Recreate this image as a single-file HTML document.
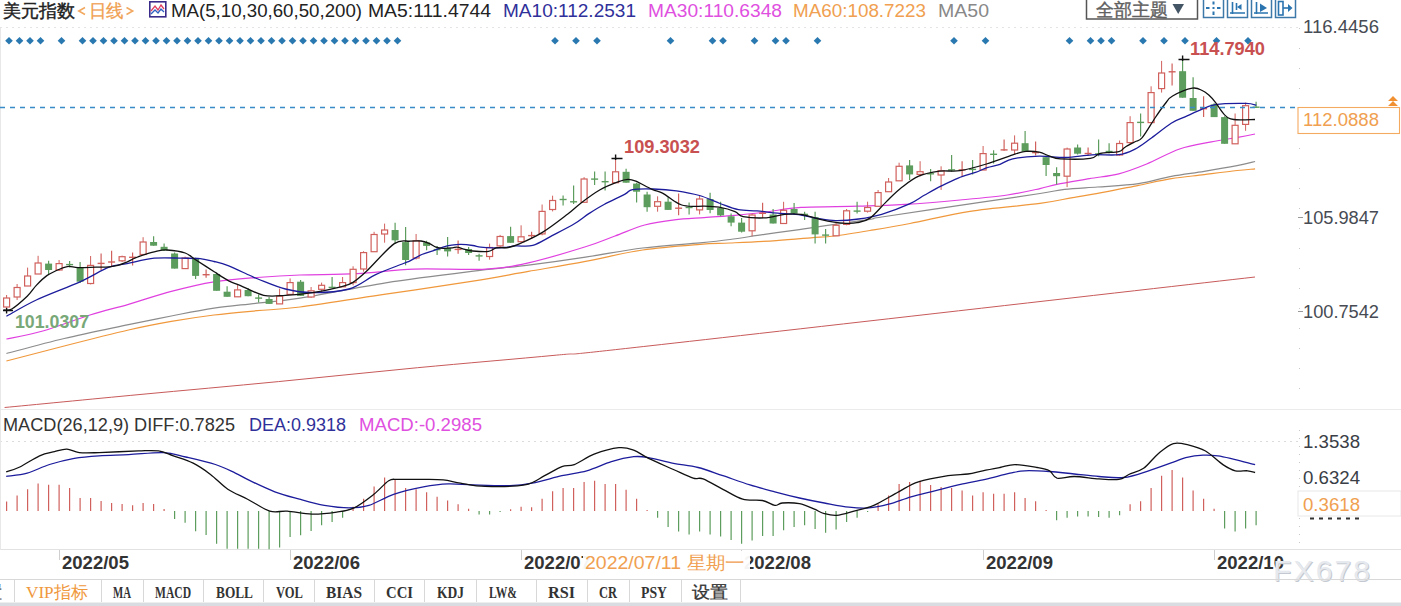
<!DOCTYPE html>
<html><head><meta charset="utf-8">
<style>
html,body{margin:0;padding:0;background:#fff;}
body{width:1401px;height:606px;overflow:hidden;position:relative;font-family:"Liberation Sans",sans-serif;}
svg{position:absolute;left:0;top:0;}

.mono{font-family:"Liberation Mono",monospace;}
</style></head><body>
<svg width="1401" height="606" viewBox="0 0 1401 606">
<rect x="0" y="0" width="1401" height="606" fill="#fff"/>
<line x1="0" y1="27.5" x2="1300" y2="27.5" stroke="#e4e4e4" stroke-dasharray="2,4"/>
<line x1="1299.5" y1="28" x2="1299.5" y2="408" stroke="#c8c8c8" stroke-dasharray="1,19"/>
<line x1="0" y1="409.5" x2="1401" y2="409.5" stroke="#ebebeb"/>
<line x1="0" y1="441.5" x2="1300" y2="441.5" stroke="#dcdcdc" stroke-dasharray="2,4"/>
<line x1="1299.5" y1="430" x2="1299.5" y2="548" stroke="#c8c8c8" stroke-dasharray="1,7"/>
<line x1="0" y1="549.5" x2="1401" y2="549.5" stroke="#e2e2e2"/>
<line x1="0.5" y1="28" x2="0.5" y2="550" stroke="#e8e8e8"/>
<path d="M4.6 407.5 C27.0 405.4 93.4 398.9 139.0 394.6 C184.6 390.3 232.0 386.1 278.4 381.6 C324.8 377.1 371.2 372.1 417.6 367.7 C464.0 363.3 518.1 358.8 556.8 355.1 C595.5 351.5 533.6 358.8 650.0 345.8 C766.4 332.8 1154.2 288.5 1255.0 277.0" fill="none" stroke="#c85a5a" stroke-width="1"/>
<path d="M6.4 361.0 C16.0 358.5 43.9 351.2 64.2 346.0 C84.5 340.8 110.7 334.1 128.5 330.0 C146.3 325.9 157.1 323.9 171.3 321.4 C185.6 318.9 199.7 316.8 214.0 315.0 C228.3 313.2 242.7 312.0 257.0 310.7 C271.3 309.4 278.6 309.8 300.0 307.0 C321.4 304.2 357.1 298.5 385.7 294.2 C414.2 289.9 447.5 285.2 471.3 281.4 C495.1 277.6 509.4 274.7 528.4 271.4 C547.4 268.1 566.5 265.0 585.5 261.4 C604.5 257.8 623.5 252.8 642.6 250.0 C661.7 247.2 685.4 245.5 700.0 244.3 C714.6 243.1 717.3 243.6 730.0 243.0 C742.7 242.4 762.7 241.5 776.2 240.6 C789.7 239.7 801.3 238.6 810.9 237.8 C820.5 237.0 824.1 237.2 834.0 236.0 C843.9 234.8 857.3 232.6 870.0 230.5 C882.7 228.4 893.3 226.7 910.0 223.5 C926.7 220.3 948.3 214.7 970.0 211.3 C991.7 208.0 1022.9 205.7 1040.0 203.4 C1057.1 201.1 1061.8 199.5 1072.8 197.6 C1083.8 195.7 1094.8 193.9 1105.7 191.9 C1116.7 189.9 1127.5 187.5 1138.5 185.3 C1149.5 183.1 1160.5 180.5 1171.4 178.7 C1182.4 176.9 1193.3 176.0 1204.2 174.6 C1215.1 173.2 1228.5 171.4 1237.0 170.5 C1245.5 169.6 1252.1 169.2 1255.1 168.9" fill="none" stroke="#f0983c" stroke-width="1.2"/>
<path d="M6.4 353.5 C16.0 351.0 43.9 343.3 64.2 338.5 C84.5 333.7 110.7 328.4 128.5 324.6 C146.3 320.9 157.1 318.8 171.3 316.0 C185.6 313.2 199.7 310.2 214.0 308.1 C228.3 306.0 242.7 304.9 257.0 303.2 C271.3 301.5 278.6 301.6 300.0 298.2 C321.4 294.8 357.1 287.3 385.7 282.8 C414.2 278.3 447.5 274.3 471.3 271.4 C495.1 268.4 509.4 267.5 528.4 265.1 C547.4 262.7 566.5 260.0 585.5 257.1 C604.5 254.3 623.5 250.4 642.6 248.0 C661.7 245.6 685.4 244.2 700.0 242.8 C714.6 241.4 719.2 240.9 730.0 239.5 C740.8 238.1 753.2 235.9 764.7 234.3 C776.2 232.7 789.7 231.0 799.3 229.7 C808.9 228.3 810.6 227.9 822.4 226.2 C834.2 224.5 860.1 220.8 870.0 219.3 C879.9 217.8 865.0 219.6 881.7 217.0 C898.4 214.4 943.6 207.8 970.0 203.9 C996.4 200.0 1024.2 195.9 1040.0 193.5 C1055.8 191.1 1055.0 190.5 1064.6 189.4 C1074.2 188.3 1085.2 187.9 1097.5 187.0 C1109.8 186.1 1126.2 185.5 1138.5 183.7 C1150.8 181.9 1160.5 178.4 1171.4 176.3 C1182.4 174.2 1193.3 173.1 1204.2 171.3 C1215.1 169.5 1228.5 167.2 1237.0 165.6 C1245.5 164.0 1252.1 162.2 1255.1 161.5" fill="none" stroke="#8c8c8c" stroke-width="1.2"/>
<path d="M6.4 339.0 C12.5 337.7 28.9 335.0 42.8 331.0 C56.7 327.0 75.7 319.4 90.0 315.0 C104.3 310.6 115.0 308.2 128.5 304.3 C142.1 300.4 157.1 295.1 171.3 291.4 C185.6 287.6 199.7 284.1 214.0 281.8 C228.3 279.5 242.7 278.6 257.0 277.5 C271.3 276.4 283.3 275.6 300.0 275.0 C316.7 274.4 338.0 274.7 357.0 273.7 C376.0 272.7 392.8 269.9 414.2 269.1 C435.6 268.3 466.6 270.2 485.6 269.1 C504.6 268.1 511.8 266.5 528.4 262.8 C545.0 259.1 571.1 251.3 585.5 246.8 C599.9 242.3 605.1 239.6 615.0 236.0 C624.9 232.4 634.8 227.7 644.7 225.0 C654.6 222.3 664.5 221.0 674.4 219.8 C684.3 218.6 694.0 218.3 704.1 217.6 C714.2 216.8 724.6 216.2 735.0 215.3 C745.4 214.4 755.2 213.3 766.2 212.0 C777.2 210.7 785.5 208.4 800.9 207.4 C816.3 206.4 841.3 206.7 858.6 206.2 C875.9 205.7 887.9 205.4 904.8 204.4 C921.7 203.4 942.9 201.6 960.0 200.0 C977.1 198.4 994.1 196.9 1007.4 195.0 C1020.7 193.1 1031.8 190.4 1040.0 188.6 C1048.2 186.8 1048.7 186.1 1056.9 184.4 C1065.1 182.8 1079.0 180.5 1089.3 178.7 C1099.6 176.9 1109.2 176.2 1118.8 173.8 C1128.4 171.4 1136.6 168.1 1146.7 164.0 C1156.8 159.9 1168.8 152.7 1179.6 149.0 C1190.4 145.3 1201.7 143.8 1211.4 141.9 C1221.1 140.0 1230.5 138.6 1237.8 137.3 C1245.1 136.0 1252.1 134.6 1255.0 134.0" fill="none" stroke="#e040e0" stroke-width="1.2"/>
<line x1="6.6" y1="295.0" x2="6.6" y2="298.0" stroke="#d0605c"/>
<line x1="6.6" y1="307.0" x2="6.6" y2="310.0" stroke="#d0605c"/>
<rect x="3.6" y="298.0" width="6" height="9.0" fill="#fff" stroke="#d0605c" stroke-width="1.2"/>
<line x1="17.1" y1="284.0" x2="17.1" y2="287.5" stroke="#d0605c"/>
<line x1="17.1" y1="297.0" x2="17.1" y2="300.0" stroke="#d0605c"/>
<rect x="14.1" y="287.5" width="6" height="9.5" fill="#fff" stroke="#d0605c" stroke-width="1.2"/>
<line x1="27.6" y1="267.6" x2="27.6" y2="276.0" stroke="#d0605c"/>
<line x1="27.6" y1="286.0" x2="27.6" y2="286.0" stroke="#d0605c"/>
<rect x="24.6" y="276.0" width="6" height="10.0" fill="#fff" stroke="#d0605c" stroke-width="1.2"/>
<line x1="38.1" y1="255.8" x2="38.1" y2="263.0" stroke="#d0605c"/>
<line x1="38.1" y1="274.0" x2="38.1" y2="274.0" stroke="#d0605c"/>
<rect x="35.1" y="263.0" width="6" height="11.0" fill="#fff" stroke="#d0605c" stroke-width="1.2"/>
<line x1="48.6" y1="260.8" x2="48.6" y2="274.5" stroke="#5c9c5c" stroke-width="1.2"/>
<rect x="45.1" y="263.6" width="7" height="6.4" fill="#5c9c5c"/>
<line x1="59.1" y1="260.0" x2="59.1" y2="263.6" stroke="#d0605c"/>
<line x1="59.1" y1="270.0" x2="59.1" y2="271.0" stroke="#d0605c"/>
<rect x="56.1" y="263.6" width="6" height="6.4" fill="#fff" stroke="#d0605c" stroke-width="1.2"/>
<line x1="69.6" y1="261.0" x2="69.6" y2="267.6" stroke="#5c9c5c" stroke-width="1.2"/>
<line x1="66.1" y1="264.6" x2="73.1" y2="264.6" stroke="#5c9c5c" stroke-width="1.4"/>
<line x1="80.1" y1="262.0" x2="80.1" y2="283.0" stroke="#5c9c5c" stroke-width="1.2"/>
<rect x="76.6" y="267.6" width="7" height="14.1" fill="#5c9c5c"/>
<line x1="90.6" y1="256.0" x2="90.6" y2="265.4" stroke="#d0605c"/>
<line x1="90.6" y1="283.5" x2="90.6" y2="284.4" stroke="#d0605c"/>
<rect x="87.6" y="265.4" width="6" height="18.1" fill="#fff" stroke="#d0605c" stroke-width="1.2"/>
<line x1="101.1" y1="253.6" x2="101.1" y2="270.0" stroke="#d0605c" stroke-width="1.2"/>
<line x1="97.6" y1="263.4" x2="104.6" y2="263.4" stroke="#d0605c" stroke-width="1.4"/>
<line x1="111.6" y1="250.7" x2="111.6" y2="266.0" stroke="#d0605c" stroke-width="1.2"/>
<line x1="108.1" y1="262.0" x2="115.1" y2="262.0" stroke="#d0605c" stroke-width="1.4"/>
<line x1="122.1" y1="255.6" x2="122.1" y2="256.7" stroke="#d0605c"/>
<line x1="122.1" y1="260.8" x2="122.1" y2="262.0" stroke="#d0605c"/>
<rect x="119.1" y="256.7" width="6" height="4.1" fill="#fff" stroke="#d0605c" stroke-width="1.2"/>
<line x1="132.6" y1="252.4" x2="132.6" y2="265.4" stroke="#d0605c" stroke-width="1.2"/>
<line x1="129.1" y1="257.3" x2="136.1" y2="257.3" stroke="#d0605c" stroke-width="1.4"/>
<line x1="143.1" y1="237.2" x2="143.1" y2="242.0" stroke="#d0605c"/>
<line x1="143.1" y1="254.5" x2="143.1" y2="254.5" stroke="#d0605c"/>
<rect x="140.1" y="242.0" width="6" height="12.5" fill="#fff" stroke="#d0605c" stroke-width="1.2"/>
<line x1="153.6" y1="236.3" x2="153.6" y2="245.7" stroke="#5c9c5c" stroke-width="1.2"/>
<rect x="150.1" y="242.0" width="7" height="3.7" fill="#5c9c5c"/>
<line x1="164.1" y1="243.6" x2="164.1" y2="251.0" stroke="#5c9c5c" stroke-width="1.2"/>
<rect x="160.6" y="246.8" width="7" height="3.7" fill="#5c9c5c"/>
<line x1="174.6" y1="252.6" x2="174.6" y2="268.6" stroke="#5c9c5c" stroke-width="1.2"/>
<rect x="171.1" y="253.5" width="7" height="15.1" fill="#5c9c5c"/>
<line x1="185.1" y1="256.6" x2="185.1" y2="258.0" stroke="#d0605c"/>
<line x1="185.1" y1="268.6" x2="185.1" y2="268.6" stroke="#d0605c"/>
<rect x="182.1" y="258.0" width="6" height="10.6" fill="#fff" stroke="#d0605c" stroke-width="1.2"/>
<line x1="195.6" y1="257.7" x2="195.6" y2="279.0" stroke="#5c9c5c" stroke-width="1.2"/>
<rect x="192.1" y="259.0" width="7" height="16.9" fill="#5c9c5c"/>
<line x1="206.1" y1="269.4" x2="206.1" y2="277.7" stroke="#d0605c" stroke-width="1.2"/>
<line x1="202.6" y1="274.7" x2="209.6" y2="274.7" stroke="#d0605c" stroke-width="1.4"/>
<line x1="216.6" y1="272.6" x2="216.6" y2="290.8" stroke="#5c9c5c" stroke-width="1.2"/>
<rect x="213.1" y="274.0" width="7" height="16.8" fill="#5c9c5c"/>
<line x1="227.1" y1="286.3" x2="227.1" y2="296.8" stroke="#5c9c5c" stroke-width="1.2"/>
<rect x="223.6" y="291.7" width="7" height="5.1" fill="#5c9c5c"/>
<line x1="237.6" y1="284.4" x2="237.6" y2="289.9" stroke="#d0605c"/>
<line x1="237.6" y1="296.8" x2="237.6" y2="296.8" stroke="#d0605c"/>
<rect x="234.6" y="289.9" width="6" height="6.9" fill="#fff" stroke="#d0605c" stroke-width="1.2"/>
<line x1="248.1" y1="288.0" x2="248.1" y2="296.2" stroke="#5c9c5c" stroke-width="1.2"/>
<rect x="244.6" y="290.0" width="7" height="6.2" fill="#5c9c5c"/>
<line x1="258.6" y1="294.4" x2="258.6" y2="302.6" stroke="#5c9c5c" stroke-width="1.2"/>
<line x1="255.1" y1="298.1" x2="262.1" y2="298.1" stroke="#5c9c5c" stroke-width="1.4"/>
<line x1="269.1" y1="297.0" x2="269.1" y2="303.9" stroke="#5c9c5c" stroke-width="1.2"/>
<rect x="265.6" y="299.0" width="7" height="4.9" fill="#5c9c5c"/>
<line x1="279.6" y1="288.6" x2="279.6" y2="296.2" stroke="#d0605c"/>
<line x1="279.6" y1="303.9" x2="279.6" y2="303.9" stroke="#d0605c"/>
<rect x="276.6" y="296.2" width="6" height="7.7" fill="#fff" stroke="#d0605c" stroke-width="1.2"/>
<line x1="290.1" y1="278.4" x2="290.1" y2="282.6" stroke="#d0605c"/>
<line x1="290.1" y1="294.4" x2="290.1" y2="294.4" stroke="#d0605c"/>
<rect x="287.1" y="282.6" width="6" height="11.8" fill="#fff" stroke="#d0605c" stroke-width="1.2"/>
<line x1="300.6" y1="280.0" x2="300.6" y2="295.9" stroke="#5c9c5c" stroke-width="1.2"/>
<rect x="297.1" y="281.7" width="7" height="14.2" fill="#5c9c5c"/>
<line x1="311.1" y1="287.0" x2="311.1" y2="290.8" stroke="#d0605c"/>
<line x1="311.1" y1="297.0" x2="311.1" y2="298.0" stroke="#d0605c"/>
<rect x="308.1" y="290.8" width="6" height="6.2" fill="#fff" stroke="#d0605c" stroke-width="1.2"/>
<line x1="321.6" y1="282.6" x2="321.6" y2="285.3" stroke="#d0605c"/>
<line x1="321.6" y1="289.3" x2="321.6" y2="292.6" stroke="#d0605c"/>
<rect x="318.6" y="285.3" width="6" height="4.0" fill="#fff" stroke="#d0605c" stroke-width="1.2"/>
<line x1="332.1" y1="277.0" x2="332.1" y2="287.9" stroke="#5c9c5c" stroke-width="1.2"/>
<line x1="328.6" y1="287.4" x2="335.6" y2="287.4" stroke="#5c9c5c" stroke-width="1.4"/>
<line x1="342.6" y1="277.0" x2="342.6" y2="282.6" stroke="#d0605c"/>
<line x1="342.6" y1="286.8" x2="342.6" y2="286.8" stroke="#d0605c"/>
<rect x="339.6" y="282.6" width="6" height="4.2" fill="#fff" stroke="#d0605c" stroke-width="1.2"/>
<line x1="353.1" y1="266.3" x2="353.1" y2="269.3" stroke="#d0605c"/>
<line x1="353.1" y1="282.6" x2="353.1" y2="285.3" stroke="#d0605c"/>
<rect x="350.1" y="269.3" width="6" height="13.3" fill="#fff" stroke="#d0605c" stroke-width="1.2"/>
<line x1="363.6" y1="251.2" x2="363.6" y2="252.6" stroke="#d0605c"/>
<line x1="363.6" y1="269.0" x2="363.6" y2="271.7" stroke="#d0605c"/>
<rect x="360.6" y="252.6" width="6" height="16.4" fill="#fff" stroke="#d0605c" stroke-width="1.2"/>
<line x1="374.1" y1="231.8" x2="374.1" y2="234.5" stroke="#d0605c"/>
<line x1="374.1" y1="251.7" x2="374.1" y2="251.7" stroke="#d0605c"/>
<rect x="371.1" y="234.5" width="6" height="17.2" fill="#fff" stroke="#d0605c" stroke-width="1.2"/>
<line x1="384.6" y1="223.6" x2="384.6" y2="230.0" stroke="#d0605c"/>
<line x1="384.6" y1="234.0" x2="384.6" y2="242.7" stroke="#d0605c"/>
<rect x="381.6" y="230.0" width="6" height="4.0" fill="#fff" stroke="#d0605c" stroke-width="1.2"/>
<line x1="395.1" y1="222.7" x2="395.1" y2="243.6" stroke="#5c9c5c" stroke-width="1.2"/>
<rect x="391.6" y="230.0" width="7" height="10.3" fill="#5c9c5c"/>
<line x1="405.6" y1="226.9" x2="405.6" y2="265.3" stroke="#5c9c5c" stroke-width="1.2"/>
<rect x="402.1" y="242.1" width="7" height="17.9" fill="#5c9c5c"/>
<line x1="416.1" y1="234.0" x2="416.1" y2="240.8" stroke="#d0605c"/>
<line x1="416.1" y1="258.0" x2="416.1" y2="259.5" stroke="#d0605c"/>
<rect x="413.1" y="240.8" width="6" height="17.2" fill="#fff" stroke="#d0605c" stroke-width="1.2"/>
<line x1="426.6" y1="240.8" x2="426.6" y2="250.2" stroke="#5c9c5c" stroke-width="1.2"/>
<rect x="423.1" y="242.4" width="7" height="3.5" fill="#5c9c5c"/>
<line x1="437.1" y1="245.9" x2="437.1" y2="255.0" stroke="#5c9c5c" stroke-width="1.2"/>
<line x1="433.6" y1="249.6" x2="440.6" y2="249.6" stroke="#5c9c5c" stroke-width="1.4"/>
<line x1="447.6" y1="236.9" x2="447.6" y2="256.5" stroke="#5c9c5c" stroke-width="1.2"/>
<rect x="444.1" y="247.9" width="7" height="3.5" fill="#5c9c5c"/>
<line x1="458.1" y1="240.4" x2="458.1" y2="253.8" stroke="#d0605c" stroke-width="1.2"/>
<line x1="454.6" y1="249.4" x2="461.6" y2="249.4" stroke="#d0605c" stroke-width="1.4"/>
<line x1="468.6" y1="247.1" x2="468.6" y2="255.0" stroke="#5c9c5c" stroke-width="1.2"/>
<rect x="465.1" y="249.0" width="7" height="4.0" fill="#5c9c5c"/>
<line x1="479.1" y1="253.8" x2="479.1" y2="260.8" stroke="#5c9c5c" stroke-width="1.2"/>
<line x1="475.6" y1="255.9" x2="482.6" y2="255.9" stroke="#5c9c5c" stroke-width="1.4"/>
<line x1="489.6" y1="243.6" x2="489.6" y2="247.5" stroke="#d0605c"/>
<line x1="489.6" y1="256.5" x2="489.6" y2="259.7" stroke="#d0605c"/>
<rect x="486.6" y="247.5" width="6" height="9.0" fill="#fff" stroke="#d0605c" stroke-width="1.2"/>
<line x1="500.1" y1="234.9" x2="500.1" y2="236.5" stroke="#d0605c"/>
<line x1="500.1" y1="245.9" x2="500.1" y2="247.1" stroke="#d0605c"/>
<rect x="497.1" y="236.5" width="6" height="9.4" fill="#fff" stroke="#d0605c" stroke-width="1.2"/>
<line x1="510.6" y1="226.7" x2="510.6" y2="242.8" stroke="#5c9c5c" stroke-width="1.2"/>
<rect x="507.1" y="236.1" width="7" height="6.7" fill="#5c9c5c"/>
<line x1="521.1" y1="225.3" x2="521.1" y2="236.8" stroke="#d0605c"/>
<line x1="521.1" y1="241.7" x2="521.1" y2="243.5" stroke="#d0605c"/>
<rect x="518.1" y="236.8" width="6" height="4.9" fill="#fff" stroke="#d0605c" stroke-width="1.2"/>
<line x1="531.6" y1="231.7" x2="531.6" y2="239.0" stroke="#d0605c" stroke-width="1.2"/>
<line x1="528.1" y1="235.6" x2="535.1" y2="235.6" stroke="#d0605c" stroke-width="1.4"/>
<line x1="542.1" y1="204.5" x2="542.1" y2="211.4" stroke="#d0605c"/>
<line x1="542.1" y1="233.9" x2="542.1" y2="235.3" stroke="#d0605c"/>
<rect x="539.1" y="211.4" width="6" height="22.5" fill="#fff" stroke="#d0605c" stroke-width="1.2"/>
<line x1="552.6" y1="195.7" x2="552.6" y2="200.5" stroke="#d0605c"/>
<line x1="552.6" y1="209.5" x2="552.6" y2="211.4" stroke="#d0605c"/>
<rect x="549.6" y="200.5" width="6" height="9.0" fill="#fff" stroke="#d0605c" stroke-width="1.2"/>
<line x1="563.1" y1="195.4" x2="563.1" y2="205.4" stroke="#5c9c5c" stroke-width="1.2"/>
<line x1="559.6" y1="199.5" x2="566.6" y2="199.5" stroke="#5c9c5c" stroke-width="1.4"/>
<line x1="573.6" y1="185.4" x2="573.6" y2="204.0" stroke="#5c9c5c" stroke-width="1.2"/>
<line x1="570.1" y1="201.8" x2="577.1" y2="201.8" stroke="#5c9c5c" stroke-width="1.4"/>
<line x1="584.1" y1="177.2" x2="584.1" y2="179.0" stroke="#d0605c"/>
<line x1="584.1" y1="202.3" x2="584.1" y2="202.3" stroke="#d0605c"/>
<rect x="581.1" y="179.0" width="6" height="23.3" fill="#fff" stroke="#d0605c" stroke-width="1.2"/>
<line x1="594.6" y1="171.4" x2="594.6" y2="184.9" stroke="#5c9c5c" stroke-width="1.2"/>
<line x1="591.1" y1="179.1" x2="598.1" y2="179.1" stroke="#5c9c5c" stroke-width="1.4"/>
<line x1="605.1" y1="171.6" x2="605.1" y2="190.5" stroke="#5c9c5c" stroke-width="1.2"/>
<line x1="601.6" y1="181.7" x2="608.6" y2="181.7" stroke="#5c9c5c" stroke-width="1.4"/>
<line x1="615.6" y1="156.3" x2="615.6" y2="171.8" stroke="#d0605c"/>
<line x1="615.6" y1="182.7" x2="615.6" y2="182.7" stroke="#d0605c"/>
<rect x="612.6" y="171.8" width="6" height="10.9" fill="#fff" stroke="#d0605c" stroke-width="1.2"/>
<line x1="626.1" y1="168.7" x2="626.1" y2="182.7" stroke="#5c9c5c" stroke-width="1.2"/>
<rect x="622.6" y="171.8" width="7" height="10.9" fill="#5c9c5c"/>
<line x1="636.6" y1="182.7" x2="636.6" y2="202.6" stroke="#5c9c5c" stroke-width="1.2"/>
<rect x="633.1" y="183.6" width="7" height="8.1" fill="#5c9c5c"/>
<line x1="647.1" y1="191.7" x2="647.1" y2="211.7" stroke="#5c9c5c" stroke-width="1.2"/>
<rect x="643.6" y="194.5" width="7" height="12.7" fill="#5c9c5c"/>
<line x1="657.6" y1="196.3" x2="657.6" y2="201.7" stroke="#d0605c"/>
<line x1="657.6" y1="206.3" x2="657.6" y2="211.7" stroke="#d0605c"/>
<rect x="654.6" y="201.7" width="6" height="4.6" fill="#fff" stroke="#d0605c" stroke-width="1.2"/>
<line x1="668.1" y1="197.2" x2="668.1" y2="209.9" stroke="#5c9c5c" stroke-width="1.2"/>
<rect x="664.6" y="201.7" width="7" height="8.2" fill="#5c9c5c"/>
<line x1="678.6" y1="193.5" x2="678.6" y2="215.3" stroke="#d0605c" stroke-width="1.2"/>
<line x1="675.1" y1="208.2" x2="682.1" y2="208.2" stroke="#d0605c" stroke-width="1.4"/>
<line x1="689.1" y1="202.6" x2="689.1" y2="214.4" stroke="#5c9c5c" stroke-width="1.2"/>
<line x1="685.6" y1="207.5" x2="692.6" y2="207.5" stroke="#5c9c5c" stroke-width="1.4"/>
<line x1="699.6" y1="196.0" x2="699.6" y2="199.0" stroke="#d0605c"/>
<line x1="699.6" y1="209.9" x2="699.6" y2="214.4" stroke="#d0605c"/>
<rect x="696.6" y="199.0" width="6" height="10.9" fill="#fff" stroke="#d0605c" stroke-width="1.2"/>
<line x1="710.1" y1="192.7" x2="710.1" y2="213.2" stroke="#5c9c5c" stroke-width="1.2"/>
<rect x="706.6" y="199.0" width="7" height="11.0" fill="#5c9c5c"/>
<line x1="720.6" y1="201.8" x2="720.6" y2="216.3" stroke="#5c9c5c" stroke-width="1.2"/>
<rect x="717.1" y="208.0" width="7" height="7.4" fill="#5c9c5c"/>
<line x1="731.1" y1="213.6" x2="731.1" y2="226.3" stroke="#5c9c5c" stroke-width="1.2"/>
<rect x="727.6" y="216.3" width="7" height="6.3" fill="#5c9c5c"/>
<line x1="741.6" y1="218.1" x2="741.6" y2="232.6" stroke="#5c9c5c" stroke-width="1.2"/>
<rect x="738.1" y="222.6" width="7" height="9.1" fill="#5c9c5c"/>
<line x1="752.1" y1="213.6" x2="752.1" y2="215.0" stroke="#d0605c"/>
<line x1="752.1" y1="230.8" x2="752.1" y2="236.3" stroke="#d0605c"/>
<rect x="749.1" y="215.0" width="6" height="15.8" fill="#fff" stroke="#d0605c" stroke-width="1.2"/>
<line x1="762.6" y1="202.7" x2="762.6" y2="218.1" stroke="#d0605c" stroke-width="1.2"/>
<line x1="759.1" y1="213.3" x2="766.1" y2="213.3" stroke="#d0605c" stroke-width="1.4"/>
<line x1="773.1" y1="209.0" x2="773.1" y2="223.5" stroke="#5c9c5c" stroke-width="1.2"/>
<rect x="769.6" y="214.5" width="7" height="9.0" fill="#5c9c5c"/>
<line x1="783.6" y1="201.8" x2="783.6" y2="210.3" stroke="#d0605c"/>
<line x1="783.6" y1="223.5" x2="783.6" y2="223.5" stroke="#d0605c"/>
<rect x="780.6" y="210.3" width="6" height="13.2" fill="#fff" stroke="#d0605c" stroke-width="1.2"/>
<line x1="794.1" y1="203.0" x2="794.1" y2="214.5" stroke="#5c9c5c" stroke-width="1.2"/>
<rect x="790.6" y="209.0" width="7" height="4.5" fill="#5c9c5c"/>
<line x1="804.6" y1="211.7" x2="804.6" y2="219.9" stroke="#5c9c5c" stroke-width="1.2"/>
<line x1="801.1" y1="214.4" x2="808.1" y2="214.4" stroke="#5c9c5c" stroke-width="1.4"/>
<line x1="815.1" y1="211.7" x2="815.1" y2="243.5" stroke="#5c9c5c" stroke-width="1.2"/>
<rect x="811.6" y="217.1" width="7" height="17.3" fill="#5c9c5c"/>
<line x1="825.6" y1="229.0" x2="825.6" y2="243.5" stroke="#5c9c5c" stroke-width="1.2"/>
<line x1="822.1" y1="235.1" x2="829.1" y2="235.1" stroke="#5c9c5c" stroke-width="1.4"/>
<line x1="836.1" y1="222.6" x2="836.1" y2="225.3" stroke="#d0605c"/>
<line x1="836.1" y1="235.8" x2="836.1" y2="235.8" stroke="#d0605c"/>
<rect x="833.1" y="225.3" width="6" height="10.5" fill="#fff" stroke="#d0605c" stroke-width="1.2"/>
<line x1="846.6" y1="209.0" x2="846.6" y2="210.8" stroke="#d0605c"/>
<line x1="846.6" y1="224.4" x2="846.6" y2="225.3" stroke="#d0605c"/>
<rect x="843.6" y="210.8" width="6" height="13.6" fill="#fff" stroke="#d0605c" stroke-width="1.2"/>
<line x1="857.1" y1="201.7" x2="857.1" y2="213.5" stroke="#5c9c5c" stroke-width="1.2"/>
<line x1="853.6" y1="211.1" x2="860.6" y2="211.1" stroke="#5c9c5c" stroke-width="1.4"/>
<line x1="867.6" y1="201.7" x2="867.6" y2="207.5" stroke="#d0605c"/>
<line x1="867.6" y1="211.2" x2="867.6" y2="212.6" stroke="#d0605c"/>
<rect x="864.6" y="207.5" width="6" height="3.7" fill="#fff" stroke="#d0605c" stroke-width="1.2"/>
<line x1="878.1" y1="190.0" x2="878.1" y2="192.6" stroke="#d0605c"/>
<line x1="878.1" y1="206.3" x2="878.1" y2="206.3" stroke="#d0605c"/>
<rect x="875.1" y="192.6" width="6" height="13.7" fill="#fff" stroke="#d0605c" stroke-width="1.2"/>
<line x1="888.6" y1="178.0" x2="888.6" y2="182.0" stroke="#d0605c"/>
<line x1="888.6" y1="191.7" x2="888.6" y2="191.7" stroke="#d0605c"/>
<rect x="885.6" y="182.0" width="6" height="9.7" fill="#fff" stroke="#d0605c" stroke-width="1.2"/>
<line x1="899.1" y1="162.7" x2="899.1" y2="166.3" stroke="#d0605c"/>
<line x1="899.1" y1="180.8" x2="899.1" y2="180.8" stroke="#d0605c"/>
<rect x="896.1" y="166.3" width="6" height="14.5" fill="#fff" stroke="#d0605c" stroke-width="1.2"/>
<line x1="909.6" y1="160.0" x2="909.6" y2="179.9" stroke="#5c9c5c" stroke-width="1.2"/>
<rect x="906.1" y="165.4" width="7" height="9.0" fill="#5c9c5c"/>
<line x1="920.1" y1="161.2" x2="920.1" y2="171.7" stroke="#d0605c"/>
<line x1="920.1" y1="174.4" x2="920.1" y2="176.3" stroke="#d0605c"/>
<rect x="917.1" y="171.7" width="6" height="2.7" fill="#fff" stroke="#d0605c" stroke-width="1.2"/>
<line x1="930.6" y1="169.0" x2="930.6" y2="181.2" stroke="#5c9c5c" stroke-width="1.2"/>
<line x1="927.1" y1="173.8" x2="934.1" y2="173.8" stroke="#5c9c5c" stroke-width="1.4"/>
<line x1="941.1" y1="166.3" x2="941.1" y2="170.8" stroke="#d0605c"/>
<line x1="941.1" y1="175.0" x2="941.1" y2="189.9" stroke="#d0605c"/>
<rect x="938.1" y="170.8" width="6" height="4.2" fill="#fff" stroke="#d0605c" stroke-width="1.2"/>
<line x1="951.6" y1="155.0" x2="951.6" y2="171.7" stroke="#5c9c5c" stroke-width="1.2"/>
<line x1="948.1" y1="169.9" x2="955.1" y2="169.9" stroke="#5c9c5c" stroke-width="1.4"/>
<line x1="962.1" y1="161.2" x2="962.1" y2="176.3" stroke="#d0605c" stroke-width="1.2"/>
<line x1="958.6" y1="169.9" x2="965.6" y2="169.9" stroke="#d0605c" stroke-width="1.4"/>
<line x1="972.6" y1="160.0" x2="972.6" y2="174.4" stroke="#5c9c5c" stroke-width="1.2"/>
<line x1="969.1" y1="169.4" x2="976.1" y2="169.4" stroke="#5c9c5c" stroke-width="1.4"/>
<line x1="983.1" y1="146.0" x2="983.1" y2="153.6" stroke="#d0605c"/>
<line x1="983.1" y1="170.0" x2="983.1" y2="170.0" stroke="#d0605c"/>
<rect x="980.1" y="153.6" width="6" height="16.4" fill="#fff" stroke="#d0605c" stroke-width="1.2"/>
<line x1="993.6" y1="150.3" x2="993.6" y2="163.5" stroke="#5c9c5c" stroke-width="1.2"/>
<line x1="990.1" y1="154.3" x2="997.1" y2="154.3" stroke="#5c9c5c" stroke-width="1.4"/>
<line x1="1004.1" y1="139.6" x2="1004.1" y2="150.8" stroke="#d0605c" stroke-width="1.2"/>
<line x1="1000.6" y1="149.9" x2="1007.6" y2="149.9" stroke="#d0605c" stroke-width="1.4"/>
<line x1="1014.6" y1="135.4" x2="1014.6" y2="143.2" stroke="#d0605c"/>
<line x1="1014.6" y1="150.0" x2="1014.6" y2="154.5" stroke="#d0605c"/>
<rect x="1011.6" y="143.2" width="6" height="6.8" fill="#fff" stroke="#d0605c" stroke-width="1.2"/>
<line x1="1025.1" y1="130.9" x2="1025.1" y2="151.7" stroke="#5c9c5c" stroke-width="1.2"/>
<rect x="1021.6" y="143.2" width="7" height="8.5" fill="#5c9c5c"/>
<line x1="1035.6" y1="141.4" x2="1035.6" y2="155.4" stroke="#d0605c" stroke-width="1.2"/>
<line x1="1032.1" y1="152.6" x2="1039.1" y2="152.6" stroke="#d0605c" stroke-width="1.4"/>
<line x1="1046.1" y1="155.4" x2="1046.1" y2="175.9" stroke="#5c9c5c" stroke-width="1.2"/>
<rect x="1042.6" y="157.2" width="7" height="7.8" fill="#5c9c5c"/>
<line x1="1056.6" y1="167.2" x2="1056.6" y2="184.4" stroke="#5c9c5c" stroke-width="1.2"/>
<rect x="1053.1" y="173.0" width="7" height="3.2" fill="#5c9c5c"/>
<line x1="1067.1" y1="147.6" x2="1067.1" y2="149.0" stroke="#d0605c"/>
<line x1="1067.1" y1="176.2" x2="1067.1" y2="187.1" stroke="#d0605c"/>
<rect x="1064.1" y="149.0" width="6" height="27.2" fill="#fff" stroke="#d0605c" stroke-width="1.2"/>
<line x1="1077.6" y1="144.5" x2="1077.6" y2="154.5" stroke="#5c9c5c" stroke-width="1.2"/>
<rect x="1074.1" y="147.5" width="7" height="6.2" fill="#5c9c5c"/>
<line x1="1088.1" y1="147.6" x2="1088.1" y2="155.4" stroke="#d0605c" stroke-width="1.2"/>
<line x1="1084.6" y1="153.5" x2="1091.6" y2="153.5" stroke="#d0605c" stroke-width="1.4"/>
<line x1="1098.6" y1="139.6" x2="1098.6" y2="156.3" stroke="#5c9c5c" stroke-width="1.2"/>
<line x1="1095.1" y1="153.9" x2="1102.1" y2="153.9" stroke="#5c9c5c" stroke-width="1.4"/>
<line x1="1109.1" y1="143.2" x2="1109.1" y2="153.5" stroke="#5c9c5c" stroke-width="1.2"/>
<line x1="1105.6" y1="151.5" x2="1112.6" y2="151.5" stroke="#5c9c5c" stroke-width="1.4"/>
<line x1="1119.6" y1="140.5" x2="1119.6" y2="143.5" stroke="#d0605c"/>
<line x1="1119.6" y1="155.0" x2="1119.6" y2="155.7" stroke="#d0605c"/>
<rect x="1116.6" y="143.5" width="6" height="11.5" fill="#fff" stroke="#d0605c" stroke-width="1.2"/>
<line x1="1130.1" y1="116.2" x2="1130.1" y2="122.6" stroke="#d0605c"/>
<line x1="1130.1" y1="142.6" x2="1130.1" y2="144.4" stroke="#d0605c"/>
<rect x="1127.1" y="122.6" width="6" height="20.0" fill="#fff" stroke="#d0605c" stroke-width="1.2"/>
<line x1="1140.6" y1="113.5" x2="1140.6" y2="136.5" stroke="#5c9c5c" stroke-width="1.2"/>
<line x1="1137.1" y1="122.4" x2="1144.1" y2="122.4" stroke="#5c9c5c" stroke-width="1.4"/>
<line x1="1151.1" y1="86.3" x2="1151.1" y2="92.6" stroke="#d0605c"/>
<line x1="1151.1" y1="122.6" x2="1151.1" y2="123.5" stroke="#d0605c"/>
<rect x="1148.1" y="92.6" width="6" height="30.0" fill="#fff" stroke="#d0605c" stroke-width="1.2"/>
<line x1="1161.6" y1="60.9" x2="1161.6" y2="73.0" stroke="#d0605c"/>
<line x1="1161.6" y1="88.6" x2="1161.6" y2="92.6" stroke="#d0605c"/>
<rect x="1158.6" y="73.0" width="6" height="15.6" fill="#fff" stroke="#d0605c" stroke-width="1.2"/>
<line x1="1172.1" y1="63.6" x2="1172.1" y2="85.4" stroke="#d0605c" stroke-width="1.2"/>
<line x1="1168.6" y1="71.8" x2="1175.6" y2="71.8" stroke="#d0605c" stroke-width="1.4"/>
<line x1="1182.6" y1="58.2" x2="1182.6" y2="97.7" stroke="#5c9c5c" stroke-width="1.2"/>
<rect x="1179.1" y="71.2" width="7" height="26.5" fill="#5c9c5c"/>
<line x1="1193.1" y1="77.2" x2="1193.1" y2="110.8" stroke="#5c9c5c" stroke-width="1.2"/>
<rect x="1189.6" y="98.0" width="7" height="12.8" fill="#5c9c5c"/>
<line x1="1203.6" y1="96.3" x2="1203.6" y2="117.0" stroke="#d0605c" stroke-width="1.2"/>
<line x1="1200.1" y1="108.7" x2="1207.1" y2="108.7" stroke="#d0605c" stroke-width="1.4"/>
<line x1="1214.1" y1="103.2" x2="1214.1" y2="117.1" stroke="#5c9c5c" stroke-width="1.2"/>
<rect x="1210.6" y="104.4" width="7" height="12.7" fill="#5c9c5c"/>
<line x1="1224.6" y1="116.2" x2="1224.6" y2="143.8" stroke="#5c9c5c" stroke-width="1.2"/>
<rect x="1221.1" y="117.1" width="7" height="26.7" fill="#5c9c5c"/>
<line x1="1235.1" y1="113.5" x2="1235.1" y2="125.3" stroke="#d0605c"/>
<line x1="1235.1" y1="143.8" x2="1235.1" y2="143.8" stroke="#d0605c"/>
<rect x="1232.1" y="125.3" width="6" height="18.5" fill="#fff" stroke="#d0605c" stroke-width="1.2"/>
<line x1="1245.6" y1="102.6" x2="1245.6" y2="105.7" stroke="#d0605c"/>
<line x1="1245.6" y1="124.4" x2="1245.6" y2="130.8" stroke="#d0605c"/>
<rect x="1242.6" y="105.7" width="6" height="18.7" fill="#fff" stroke="#d0605c" stroke-width="1.2"/>
<line x1="1256.1" y1="101.7" x2="1256.1" y2="108.0" stroke="#5c9c5c" stroke-width="1.2"/>
<line x1="1252.6" y1="107.2" x2="1259.6" y2="107.2" stroke="#5c9c5c" stroke-width="1.4"/>
<path d="M6.4 316.3 C11.4 313.6 24.0 305.8 36.3 300.0 C48.6 294.2 67.9 287.3 80.0 281.8 C92.1 276.3 101.2 270.2 109.0 267.2 C116.8 264.2 119.5 265.1 127.0 263.6 C134.6 262.1 145.2 259.1 154.3 258.2 C163.4 257.3 174.0 258.1 181.6 258.2 C189.2 258.3 194.7 258.1 200.1 258.6 C205.5 259.2 209.4 260.3 214.1 261.5 C218.8 262.7 222.1 263.4 228.1 265.7 C234.1 268.0 245.0 273.3 250.0 275.5 C255.0 277.7 252.1 276.8 258.0 279.0 C263.9 281.2 276.3 286.7 285.4 289.0 C294.5 291.3 302.0 292.6 312.6 292.6 C323.2 292.6 338.4 292.0 349.0 289.0 C359.6 286.0 367.1 278.6 376.2 274.4 C385.3 270.1 397.8 265.8 403.4 263.5 C409.0 261.2 406.9 262.3 410.0 260.8 C413.1 259.3 417.9 256.2 421.8 254.5 C425.7 252.8 430.1 251.8 433.6 250.6 C437.1 249.4 440.0 248.0 443.0 247.1 C446.0 246.2 448.6 245.6 451.6 245.1 C454.6 244.6 457.5 244.2 461.0 244.3 C464.5 244.4 469.5 245.0 472.8 245.5 C476.1 246.0 477.4 246.7 480.7 247.1 C484.0 247.5 488.5 247.8 492.4 247.9 C496.3 248.0 500.3 247.8 504.2 247.5 C508.1 247.2 511.2 246.2 516.0 245.9 C520.8 245.6 526.8 247.1 532.8 245.4 C538.8 243.7 545.2 239.3 552.1 235.7 C559.0 232.1 568.2 227.5 574.4 223.8 C580.6 220.1 584.2 216.6 589.2 213.4 C594.2 210.2 598.1 207.7 604.1 204.5 C610.1 201.3 620.3 196.6 625.0 194.1 C629.7 191.6 627.8 190.5 632.5 189.7 C637.2 188.8 646.0 188.8 653.3 189.0 C660.6 189.2 668.7 189.7 676.4 190.8 C684.1 191.9 692.2 193.4 699.5 195.5 C706.8 197.6 713.5 201.1 720.0 203.5 C726.5 205.9 732.3 208.5 738.5 209.7 C744.7 210.9 750.5 210.3 757.0 210.9 C763.5 211.5 770.5 212.5 777.8 213.2 C785.1 213.9 794.4 214.2 800.9 215.0 C807.4 215.8 811.2 217.4 817.0 218.3 C822.8 219.2 828.6 220.5 835.5 220.6 C842.4 220.7 850.9 220.1 858.6 219.0 C866.3 217.9 873.2 216.8 881.7 214.3 C890.2 211.8 902.3 207.1 909.5 203.9 C916.7 200.7 919.5 197.9 924.7 195.0 C929.9 192.1 935.3 189.0 940.9 186.2 C946.5 183.4 952.4 180.4 958.2 178.1 C964.0 175.8 970.7 174.1 975.5 172.4 C980.3 170.7 983.0 169.0 987.1 167.7 C991.2 166.3 995.7 165.8 1000.0 164.3 C1004.3 162.8 1006.3 160.2 1012.8 158.8 C1019.3 157.5 1030.4 156.4 1039.2 156.2 C1048.0 156.0 1056.8 157.7 1065.6 157.5 C1074.4 157.3 1083.1 155.3 1092.0 154.8 C1100.9 154.3 1111.6 155.6 1118.8 154.7 C1126.0 153.8 1129.8 151.7 1135.0 149.1 C1140.2 146.5 1144.0 143.3 1150.0 139.0 C1156.0 134.7 1165.4 126.9 1171.2 123.2 C1177.0 119.5 1180.5 119.0 1185.0 116.9 C1189.5 114.9 1193.1 113.0 1198.2 110.9 C1203.3 108.9 1207.4 105.8 1215.4 104.6 C1223.4 103.3 1239.2 103.3 1246.0 103.4 C1252.8 103.5 1254.6 104.9 1256.3 105.2" fill="none" stroke="#1c1c9c" stroke-width="1.3"/>
<path d="M3.6 310.0 C5.0 309.8 7.9 311.3 11.8 309.0 C15.7 306.7 23.1 300.2 27.2 296.3 C31.3 292.4 33.0 288.9 36.3 285.4 C39.6 281.9 43.2 278.1 47.2 275.4 C51.2 272.7 56.4 270.5 60.0 269.0 C63.6 267.5 66.0 266.5 69.0 266.3 C72.0 266.1 73.5 267.5 78.0 267.6 C82.5 267.8 91.0 267.3 96.2 267.2 C101.4 267.1 105.8 267.1 109.4 266.8 C113.0 266.5 115.0 266.2 118.0 265.4 C121.0 264.6 124.4 263.1 127.3 261.9 C130.2 260.6 132.4 259.1 135.4 257.9 C138.4 256.6 141.8 255.5 145.2 254.4 C148.6 253.3 152.5 252.0 156.1 251.3 C159.7 250.6 162.2 249.7 167.0 250.0 C171.8 250.3 180.4 251.3 185.2 253.0 C190.0 254.7 191.2 256.9 196.0 260.0 C200.8 263.1 208.8 268.3 214.2 271.8 C219.6 275.3 224.4 278.6 228.7 280.8 C233.0 283.1 234.2 282.9 240.0 285.3 C245.8 287.7 256.0 293.6 263.6 295.3 C271.2 297.0 277.2 295.8 285.4 295.3 C293.6 294.9 303.5 294.0 312.6 292.6 C321.7 291.2 333.1 288.8 339.8 287.1 C346.5 285.4 348.1 285.3 352.6 282.6 C357.1 279.9 360.1 277.3 367.0 270.8 C373.9 264.3 387.1 248.5 394.3 243.6 C401.5 238.7 405.6 241.6 410.0 241.2 C414.4 240.8 417.7 240.6 421.0 241.0 C424.3 241.4 427.1 242.6 429.6 243.6 C432.1 244.6 433.7 246.3 435.9 247.1 C438.1 247.9 440.2 248.2 443.0 248.3 C445.8 248.4 450.0 248.1 452.4 247.9 C454.8 247.7 455.0 246.8 457.1 247.1 C459.2 247.3 462.4 248.8 465.0 249.4 C467.6 250.1 468.9 250.7 472.8 251.0 C476.7 251.3 484.6 251.9 488.5 251.4 C492.4 250.9 493.1 248.6 496.4 247.9 C499.7 247.2 504.2 248.2 508.1 247.5 C512.0 246.8 514.3 246.1 520.0 243.6 C525.7 241.1 534.4 237.3 542.4 232.4 C550.4 227.5 561.2 219.0 567.8 214.0 C574.3 209.0 576.3 206.5 581.7 202.4 C587.1 198.3 594.0 193.2 600.1 189.7 C606.2 186.2 614.0 183.3 618.6 181.6 C623.2 179.9 625.0 179.4 627.9 179.3 C630.8 179.2 631.8 179.5 635.8 181.2 C639.8 182.9 647.6 187.4 652.1 189.4 C656.6 191.4 658.8 191.1 662.5 193.1 C666.2 195.1 671.2 199.2 674.4 201.2 C677.6 203.2 678.8 204.1 681.8 205.0 C684.8 205.9 688.5 206.2 692.2 206.4 C695.9 206.6 699.6 206.0 704.1 206.1 C708.6 206.2 713.9 206.3 719.0 207.2 C724.1 208.1 731.0 210.0 735.0 211.6 C739.0 213.2 737.9 215.6 743.1 216.6 C748.3 217.6 759.3 218.2 766.2 217.8 C773.1 217.4 778.9 214.9 784.7 214.3 C790.5 213.7 795.0 213.5 800.9 214.3 C806.8 215.1 814.6 218.0 820.1 219.3 C825.6 220.6 829.8 221.5 834.0 222.2 C838.2 222.9 841.7 223.2 845.5 223.3 C849.3 223.4 852.9 223.6 857.0 222.7 C861.1 221.8 865.1 221.6 870.0 218.1 C874.9 214.6 881.1 206.7 886.4 201.6 C891.7 196.5 896.2 191.8 901.6 187.6 C907.0 183.4 912.4 178.9 918.7 176.2 C925.0 173.4 932.6 172.0 939.5 171.1 C946.4 170.2 952.2 171.9 960.0 170.7 C967.8 169.5 977.6 166.7 986.4 164.0 C995.2 161.3 1006.2 156.9 1012.8 154.8 C1019.4 152.7 1021.6 151.8 1026.0 151.4 C1030.4 151.0 1035.2 151.4 1039.2 152.2 C1043.2 153.0 1046.3 155.1 1049.8 156.2 C1053.3 157.3 1053.5 158.4 1060.3 158.8 C1067.0 159.2 1083.6 159.3 1090.3 158.4 C1097.0 157.5 1095.5 154.5 1100.2 153.4 C1105.0 152.3 1114.7 152.6 1118.8 151.6 C1122.9 150.6 1122.3 148.8 1125.0 147.2 C1127.7 145.5 1132.1 143.3 1135.0 141.7 C1137.9 140.1 1138.9 141.6 1142.2 137.7 C1145.5 133.8 1151.2 123.7 1155.0 118.0 C1158.8 112.3 1162.4 107.2 1165.3 103.5 C1168.2 99.8 1168.1 98.5 1172.6 96.0 C1177.1 93.5 1187.4 89.1 1192.3 88.2 C1197.2 87.3 1199.5 89.3 1202.2 90.5 C1205.0 91.7 1206.6 93.1 1208.8 95.1 C1211.0 97.1 1212.8 99.0 1215.4 102.3 C1218.0 105.6 1221.5 112.0 1224.6 114.9 C1227.7 117.8 1228.7 118.7 1233.8 119.5 C1238.9 120.3 1251.5 119.5 1255.0 119.5" fill="none" stroke="#111" stroke-width="1.3"/>
<line x1="0" y1="107.5" x2="1300" y2="107.5" stroke="#3a8cc8" stroke-width="1.3" stroke-dasharray="5,5"/>
<path d="M9.0 37.0 L12.8 40.8 L9.0 44.6 L5.2 40.8 Z" fill="#2a78b0"/>
<path d="M19.5 37.0 L23.3 40.8 L19.5 44.6 L15.7 40.8 Z" fill="#2a78b0"/>
<path d="M30.0 37.0 L33.8 40.8 L30.0 44.6 L26.2 40.8 Z" fill="#2a78b0"/>
<path d="M40.5 37.0 L44.3 40.8 L40.5 44.6 L36.7 40.8 Z" fill="#2a78b0"/>
<path d="M61.5 37.0 L65.3 40.8 L61.5 44.6 L57.7 40.8 Z" fill="#2a78b0"/>
<path d="M82.5 37.0 L86.3 40.8 L82.5 44.6 L78.7 40.8 Z" fill="#2a78b0"/>
<path d="M93.0 37.0 L96.8 40.8 L93.0 44.6 L89.2 40.8 Z" fill="#2a78b0"/>
<path d="M103.5 37.0 L107.3 40.8 L103.5 44.6 L99.7 40.8 Z" fill="#2a78b0"/>
<path d="M114.0 37.0 L117.8 40.8 L114.0 44.6 L110.2 40.8 Z" fill="#2a78b0"/>
<path d="M124.5 37.0 L128.3 40.8 L124.5 44.6 L120.7 40.8 Z" fill="#2a78b0"/>
<path d="M135.0 37.0 L138.8 40.8 L135.0 44.6 L131.2 40.8 Z" fill="#2a78b0"/>
<path d="M145.5 37.0 L149.3 40.8 L145.5 44.6 L141.7 40.8 Z" fill="#2a78b0"/>
<path d="M156.0 37.0 L159.8 40.8 L156.0 44.6 L152.2 40.8 Z" fill="#2a78b0"/>
<path d="M166.5 37.0 L170.3 40.8 L166.5 44.6 L162.7 40.8 Z" fill="#2a78b0"/>
<path d="M177.0 37.0 L180.8 40.8 L177.0 44.6 L173.2 40.8 Z" fill="#2a78b0"/>
<path d="M187.5 37.0 L191.3 40.8 L187.5 44.6 L183.7 40.8 Z" fill="#2a78b0"/>
<path d="M198.0 37.0 L201.8 40.8 L198.0 44.6 L194.2 40.8 Z" fill="#2a78b0"/>
<path d="M208.5 37.0 L212.3 40.8 L208.5 44.6 L204.7 40.8 Z" fill="#2a78b0"/>
<path d="M219.0 37.0 L222.8 40.8 L219.0 44.6 L215.2 40.8 Z" fill="#2a78b0"/>
<path d="M229.5 37.0 L233.3 40.8 L229.5 44.6 L225.7 40.8 Z" fill="#2a78b0"/>
<path d="M240.0 37.0 L243.8 40.8 L240.0 44.6 L236.2 40.8 Z" fill="#2a78b0"/>
<path d="M250.5 37.0 L254.3 40.8 L250.5 44.6 L246.7 40.8 Z" fill="#2a78b0"/>
<path d="M261.0 37.0 L264.8 40.8 L261.0 44.6 L257.2 40.8 Z" fill="#2a78b0"/>
<path d="M271.5 37.0 L275.3 40.8 L271.5 44.6 L267.7 40.8 Z" fill="#2a78b0"/>
<path d="M282.0 37.0 L285.8 40.8 L282.0 44.6 L278.2 40.8 Z" fill="#2a78b0"/>
<path d="M292.5 37.0 L296.3 40.8 L292.5 44.6 L288.7 40.8 Z" fill="#2a78b0"/>
<path d="M303.0 37.0 L306.8 40.8 L303.0 44.6 L299.2 40.8 Z" fill="#2a78b0"/>
<path d="M313.5 37.0 L317.3 40.8 L313.5 44.6 L309.7 40.8 Z" fill="#2a78b0"/>
<path d="M324.0 37.0 L327.8 40.8 L324.0 44.6 L320.2 40.8 Z" fill="#2a78b0"/>
<path d="M334.5 37.0 L338.3 40.8 L334.5 44.6 L330.7 40.8 Z" fill="#2a78b0"/>
<path d="M345.0 37.0 L348.8 40.8 L345.0 44.6 L341.2 40.8 Z" fill="#2a78b0"/>
<path d="M355.5 37.0 L359.3 40.8 L355.5 44.6 L351.7 40.8 Z" fill="#2a78b0"/>
<path d="M366.0 37.0 L369.8 40.8 L366.0 44.6 L362.2 40.8 Z" fill="#2a78b0"/>
<path d="M376.5 37.0 L380.3 40.8 L376.5 44.6 L372.7 40.8 Z" fill="#2a78b0"/>
<path d="M387.0 37.0 L390.8 40.8 L387.0 44.6 L383.2 40.8 Z" fill="#2a78b0"/>
<path d="M397.5 37.0 L401.3 40.8 L397.5 44.6 L393.7 40.8 Z" fill="#2a78b0"/>
<path d="M555.0 37.0 L558.8 40.8 L555.0 44.6 L551.2 40.8 Z" fill="#2a78b0"/>
<path d="M576.0 37.0 L579.8 40.8 L576.0 44.6 L572.2 40.8 Z" fill="#2a78b0"/>
<path d="M597.0 37.0 L600.8 40.8 L597.0 44.6 L593.2 40.8 Z" fill="#2a78b0"/>
<path d="M670.5 37.0 L674.3 40.8 L670.5 44.6 L666.7 40.8 Z" fill="#2a78b0"/>
<path d="M712.5 37.0 L716.3 40.8 L712.5 44.6 L708.7 40.8 Z" fill="#2a78b0"/>
<path d="M723.0 37.0 L726.8 40.8 L723.0 44.6 L719.2 40.8 Z" fill="#2a78b0"/>
<path d="M754.5 37.0 L758.3 40.8 L754.5 44.6 L750.7 40.8 Z" fill="#2a78b0"/>
<path d="M775.5 37.0 L779.3 40.8 L775.5 44.6 L771.7 40.8 Z" fill="#2a78b0"/>
<path d="M786.0 37.0 L789.8 40.8 L786.0 44.6 L782.2 40.8 Z" fill="#2a78b0"/>
<path d="M817.5 37.0 L821.3 40.8 L817.5 44.6 L813.7 40.8 Z" fill="#2a78b0"/>
<path d="M954.0 37.0 L957.8 40.8 L954.0 44.6 L950.2 40.8 Z" fill="#2a78b0"/>
<path d="M985.5 37.0 L989.3 40.8 L985.5 44.6 L981.7 40.8 Z" fill="#2a78b0"/>
<path d="M1069.5 37.0 L1073.3 40.8 L1069.5 44.6 L1065.7 40.8 Z" fill="#2a78b0"/>
<path d="M1090.5 37.0 L1094.3 40.8 L1090.5 44.6 L1086.7 40.8 Z" fill="#2a78b0"/>
<path d="M1101.0 37.0 L1104.8 40.8 L1101.0 44.6 L1097.2 40.8 Z" fill="#2a78b0"/>
<path d="M1111.5 37.0 L1115.3 40.8 L1111.5 44.6 L1107.7 40.8 Z" fill="#2a78b0"/>
<path d="M1143.0 37.0 L1146.8 40.8 L1143.0 44.6 L1139.2 40.8 Z" fill="#2a78b0"/>
<path d="M1164.0 37.0 L1167.8 40.8 L1164.0 44.6 L1160.2 40.8 Z" fill="#2a78b0"/>
<path d="M1185.0 37.0 L1188.8 40.8 L1185.0 44.6 L1181.2 40.8 Z" fill="#2a78b0"/>
<path d="M1216.5 37.0 L1220.3 40.8 L1216.5 44.6 L1212.7 40.8 Z" fill="#2a78b0"/>
<path d="M1248.0 37.0 L1251.8 40.8 L1248.0 44.6 L1244.2 40.8 Z" fill="#2a78b0"/>
<path d="M611.5 158.5 H622.5 M615.6 154.5 V160" stroke="#111" stroke-width="1.4"/>
<path d="M1178.5 59.5 H1189.5 M1182.6 55.5 V61" stroke="#111" stroke-width="1.4"/>
<path d="M3 310.5 H13 M6.6 308 V313.5" stroke="#111" stroke-width="1.4"/>
<line x1="6.6" y1="501.6" x2="6.6" y2="511" stroke="#d0605c" stroke-width="1.2"/>
<line x1="17.1" y1="495.4" x2="17.1" y2="511" stroke="#d0605c" stroke-width="1.2"/>
<line x1="27.6" y1="489.2" x2="27.6" y2="511" stroke="#d0605c" stroke-width="1.2"/>
<line x1="38.1" y1="483.5" x2="38.1" y2="511" stroke="#d0605c" stroke-width="1.2"/>
<line x1="48.6" y1="484.8" x2="48.6" y2="511" stroke="#d0605c" stroke-width="1.2"/>
<line x1="59.1" y1="484.8" x2="59.1" y2="511" stroke="#d0605c" stroke-width="1.2"/>
<line x1="69.6" y1="488.0" x2="69.6" y2="511" stroke="#d0605c" stroke-width="1.2"/>
<line x1="80.1" y1="498.0" x2="80.1" y2="511" stroke="#d0605c" stroke-width="1.2"/>
<line x1="90.6" y1="498.0" x2="90.6" y2="511" stroke="#d0605c" stroke-width="1.2"/>
<line x1="101.1" y1="501.0" x2="101.1" y2="511" stroke="#d0605c" stroke-width="1.2"/>
<line x1="111.6" y1="502.9" x2="111.6" y2="511" stroke="#d0605c" stroke-width="1.2"/>
<line x1="122.1" y1="504.0" x2="122.1" y2="511" stroke="#d0605c" stroke-width="1.2"/>
<line x1="132.6" y1="505.3" x2="132.6" y2="511" stroke="#d0605c" stroke-width="1.2"/>
<line x1="143.1" y1="502.9" x2="143.1" y2="511" stroke="#d0605c" stroke-width="1.2"/>
<line x1="153.6" y1="504.0" x2="153.6" y2="511" stroke="#d0605c" stroke-width="1.2"/>
<line x1="164.1" y1="509.0" x2="164.1" y2="511" stroke="#d0605c" stroke-width="1.2"/>
<line x1="174.6" y1="511" x2="174.6" y2="519.0" stroke="#5c9c5c" stroke-width="1.2"/>
<line x1="185.1" y1="511" x2="185.1" y2="522.7" stroke="#5c9c5c" stroke-width="1.2"/>
<line x1="195.6" y1="511" x2="195.6" y2="531.3" stroke="#5c9c5c" stroke-width="1.2"/>
<line x1="206.1" y1="511" x2="206.1" y2="535.0" stroke="#5c9c5c" stroke-width="1.2"/>
<line x1="216.6" y1="511" x2="216.6" y2="543.7" stroke="#5c9c5c" stroke-width="1.2"/>
<line x1="227.1" y1="511" x2="227.1" y2="548.7" stroke="#5c9c5c" stroke-width="1.2"/>
<line x1="237.6" y1="511" x2="237.6" y2="548.7" stroke="#5c9c5c" stroke-width="1.2"/>
<line x1="248.1" y1="511" x2="248.1" y2="548.7" stroke="#5c9c5c" stroke-width="1.2"/>
<line x1="258.6" y1="511" x2="258.6" y2="548.8" stroke="#5c9c5c" stroke-width="1.2"/>
<line x1="269.1" y1="511" x2="269.1" y2="549.3" stroke="#5c9c5c" stroke-width="1.2"/>
<line x1="279.6" y1="511" x2="279.6" y2="547.5" stroke="#5c9c5c" stroke-width="1.2"/>
<line x1="290.1" y1="511" x2="290.1" y2="536.9" stroke="#5c9c5c" stroke-width="1.2"/>
<line x1="300.6" y1="511" x2="300.6" y2="535.2" stroke="#5c9c5c" stroke-width="1.2"/>
<line x1="311.1" y1="511" x2="311.1" y2="531.0" stroke="#5c9c5c" stroke-width="1.2"/>
<line x1="321.6" y1="511" x2="321.6" y2="525.2" stroke="#5c9c5c" stroke-width="1.2"/>
<line x1="332.1" y1="511" x2="332.1" y2="522.0" stroke="#5c9c5c" stroke-width="1.2"/>
<line x1="342.6" y1="511" x2="342.6" y2="517.8" stroke="#5c9c5c" stroke-width="1.2"/>
<line x1="353.1" y1="506.7" x2="353.1" y2="511" stroke="#d0605c" stroke-width="1.2"/>
<line x1="363.6" y1="498.8" x2="363.6" y2="511" stroke="#d0605c" stroke-width="1.2"/>
<line x1="374.1" y1="486.4" x2="374.1" y2="511" stroke="#d0605c" stroke-width="1.2"/>
<line x1="384.6" y1="477.5" x2="384.6" y2="511" stroke="#d0605c" stroke-width="1.2"/>
<line x1="395.1" y1="479.4" x2="395.1" y2="511" stroke="#d0605c" stroke-width="1.2"/>
<line x1="405.6" y1="488.1" x2="405.6" y2="511" stroke="#d0605c" stroke-width="1.2"/>
<line x1="416.1" y1="489.3" x2="416.1" y2="511" stroke="#d0605c" stroke-width="1.2"/>
<line x1="426.6" y1="492.3" x2="426.6" y2="511" stroke="#d0605c" stroke-width="1.2"/>
<line x1="437.1" y1="496.8" x2="437.1" y2="511" stroke="#d0605c" stroke-width="1.2"/>
<line x1="447.6" y1="500.5" x2="447.6" y2="511" stroke="#d0605c" stroke-width="1.2"/>
<line x1="458.1" y1="504.2" x2="458.1" y2="511" stroke="#d0605c" stroke-width="1.2"/>
<line x1="468.6" y1="508.7" x2="468.6" y2="511" stroke="#d0605c" stroke-width="1.2"/>
<line x1="479.1" y1="511" x2="479.1" y2="514.6" stroke="#5c9c5c" stroke-width="1.2"/>
<line x1="489.6" y1="511" x2="489.6" y2="514.6" stroke="#5c9c5c" stroke-width="1.2"/>
<line x1="500.1" y1="511" x2="500.1" y2="512.0" stroke="#5c9c5c" stroke-width="1.2"/>
<line x1="510.6" y1="509.2" x2="510.6" y2="511" stroke="#d0605c" stroke-width="1.2"/>
<line x1="521.1" y1="506.7" x2="521.1" y2="511" stroke="#d0605c" stroke-width="1.2"/>
<line x1="531.6" y1="507.2" x2="531.6" y2="511" stroke="#d0605c" stroke-width="1.2"/>
<line x1="542.1" y1="498.8" x2="542.1" y2="511" stroke="#d0605c" stroke-width="1.2"/>
<line x1="552.6" y1="491.3" x2="552.6" y2="511" stroke="#d0605c" stroke-width="1.2"/>
<line x1="563.1" y1="488.1" x2="563.1" y2="511" stroke="#d0605c" stroke-width="1.2"/>
<line x1="573.6" y1="488.1" x2="573.6" y2="511" stroke="#d0605c" stroke-width="1.2"/>
<line x1="584.1" y1="481.9" x2="584.1" y2="511" stroke="#d0605c" stroke-width="1.2"/>
<line x1="594.6" y1="480.7" x2="594.6" y2="511" stroke="#d0605c" stroke-width="1.2"/>
<line x1="605.1" y1="483.9" x2="605.1" y2="511" stroke="#d0605c" stroke-width="1.2"/>
<line x1="615.6" y1="483.9" x2="615.6" y2="511" stroke="#d0605c" stroke-width="1.2"/>
<line x1="626.1" y1="489.8" x2="626.1" y2="511" stroke="#d0605c" stroke-width="1.2"/>
<line x1="636.6" y1="498.8" x2="636.6" y2="511" stroke="#d0605c" stroke-width="1.2"/>
<line x1="647.1" y1="510.0" x2="647.1" y2="511" stroke="#d0605c" stroke-width="1.2"/>
<line x1="657.6" y1="511" x2="657.6" y2="517.8" stroke="#5c9c5c" stroke-width="1.2"/>
<line x1="668.1" y1="511" x2="668.1" y2="527.0" stroke="#5c9c5c" stroke-width="1.2"/>
<line x1="678.6" y1="511" x2="678.6" y2="531.4" stroke="#5c9c5c" stroke-width="1.2"/>
<line x1="689.1" y1="511" x2="689.1" y2="534.4" stroke="#5c9c5c" stroke-width="1.2"/>
<line x1="699.6" y1="511" x2="699.6" y2="531.4" stroke="#5c9c5c" stroke-width="1.2"/>
<line x1="710.1" y1="511" x2="710.1" y2="534.4" stroke="#5c9c5c" stroke-width="1.2"/>
<line x1="720.6" y1="511" x2="720.6" y2="536.4" stroke="#5c9c5c" stroke-width="1.2"/>
<line x1="731.1" y1="511" x2="731.1" y2="540.1" stroke="#5c9c5c" stroke-width="1.2"/>
<line x1="741.6" y1="511" x2="741.6" y2="543.8" stroke="#5c9c5c" stroke-width="1.2"/>
<line x1="752.1" y1="511" x2="752.1" y2="540.5" stroke="#5c9c5c" stroke-width="1.2"/>
<line x1="762.6" y1="511" x2="762.6" y2="535.9" stroke="#5c9c5c" stroke-width="1.2"/>
<line x1="773.1" y1="511" x2="773.1" y2="535.9" stroke="#5c9c5c" stroke-width="1.2"/>
<line x1="783.6" y1="511" x2="783.6" y2="530.2" stroke="#5c9c5c" stroke-width="1.2"/>
<line x1="794.1" y1="511" x2="794.1" y2="527.0" stroke="#5c9c5c" stroke-width="1.2"/>
<line x1="804.6" y1="511" x2="804.6" y2="525.2" stroke="#5c9c5c" stroke-width="1.2"/>
<line x1="815.1" y1="511" x2="815.1" y2="529.0" stroke="#5c9c5c" stroke-width="1.2"/>
<line x1="825.6" y1="511" x2="825.6" y2="532.7" stroke="#5c9c5c" stroke-width="1.2"/>
<line x1="836.1" y1="511" x2="836.1" y2="529.5" stroke="#5c9c5c" stroke-width="1.2"/>
<line x1="846.6" y1="511" x2="846.6" y2="522.0" stroke="#5c9c5c" stroke-width="1.2"/>
<line x1="857.1" y1="511" x2="857.1" y2="517.8" stroke="#5c9c5c" stroke-width="1.2"/>
<line x1="867.6" y1="511" x2="867.6" y2="512.0" stroke="#5c9c5c" stroke-width="1.2"/>
<line x1="878.1" y1="504.2" x2="878.1" y2="511" stroke="#d0605c" stroke-width="1.2"/>
<line x1="888.6" y1="495.5" x2="888.6" y2="511" stroke="#d0605c" stroke-width="1.2"/>
<line x1="899.1" y1="483.9" x2="899.1" y2="511" stroke="#d0605c" stroke-width="1.2"/>
<line x1="909.6" y1="481.9" x2="909.6" y2="511" stroke="#d0605c" stroke-width="1.2"/>
<line x1="920.1" y1="480.7" x2="920.1" y2="511" stroke="#d0605c" stroke-width="1.2"/>
<line x1="930.6" y1="484.9" x2="930.6" y2="511" stroke="#d0605c" stroke-width="1.2"/>
<line x1="941.1" y1="486.9" x2="941.1" y2="511" stroke="#d0605c" stroke-width="1.2"/>
<line x1="951.6" y1="488.1" x2="951.6" y2="511" stroke="#d0605c" stroke-width="1.2"/>
<line x1="962.1" y1="490.6" x2="962.1" y2="511" stroke="#d0605c" stroke-width="1.2"/>
<line x1="972.6" y1="495.5" x2="972.6" y2="511" stroke="#d0605c" stroke-width="1.2"/>
<line x1="983.1" y1="492.3" x2="983.1" y2="511" stroke="#d0605c" stroke-width="1.2"/>
<line x1="993.6" y1="493.8" x2="993.6" y2="511" stroke="#d0605c" stroke-width="1.2"/>
<line x1="1004.1" y1="493.8" x2="1004.1" y2="511" stroke="#d0605c" stroke-width="1.2"/>
<line x1="1014.6" y1="492.3" x2="1014.6" y2="511" stroke="#d0605c" stroke-width="1.2"/>
<line x1="1025.1" y1="498.0" x2="1025.1" y2="511" stroke="#d0605c" stroke-width="1.2"/>
<line x1="1035.6" y1="501.2" x2="1035.6" y2="511" stroke="#d0605c" stroke-width="1.2"/>
<line x1="1046.1" y1="510.0" x2="1046.1" y2="511" stroke="#d0605c" stroke-width="1.2"/>
<line x1="1056.6" y1="511" x2="1056.6" y2="520.3" stroke="#5c9c5c" stroke-width="1.2"/>
<line x1="1067.1" y1="511" x2="1067.1" y2="517.8" stroke="#5c9c5c" stroke-width="1.2"/>
<line x1="1077.6" y1="511" x2="1077.6" y2="516.6" stroke="#5c9c5c" stroke-width="1.2"/>
<line x1="1088.1" y1="511" x2="1088.1" y2="516.6" stroke="#5c9c5c" stroke-width="1.2"/>
<line x1="1098.6" y1="511" x2="1098.6" y2="517.1" stroke="#5c9c5c" stroke-width="1.2"/>
<line x1="1109.1" y1="511" x2="1109.1" y2="517.8" stroke="#5c9c5c" stroke-width="1.2"/>
<line x1="1119.6" y1="511" x2="1119.6" y2="515.3" stroke="#5c9c5c" stroke-width="1.2"/>
<line x1="1130.1" y1="504.2" x2="1130.1" y2="511" stroke="#d0605c" stroke-width="1.2"/>
<line x1="1140.6" y1="501.2" x2="1140.6" y2="511" stroke="#d0605c" stroke-width="1.2"/>
<line x1="1151.1" y1="488.1" x2="1151.1" y2="511" stroke="#d0605c" stroke-width="1.2"/>
<line x1="1161.6" y1="475.7" x2="1161.6" y2="511" stroke="#d0605c" stroke-width="1.2"/>
<line x1="1172.1" y1="470.0" x2="1172.1" y2="511" stroke="#d0605c" stroke-width="1.2"/>
<line x1="1182.6" y1="477.5" x2="1182.6" y2="511" stroke="#d0605c" stroke-width="1.2"/>
<line x1="1193.1" y1="490.6" x2="1193.1" y2="511" stroke="#d0605c" stroke-width="1.2"/>
<line x1="1203.6" y1="498.8" x2="1203.6" y2="511" stroke="#d0605c" stroke-width="1.2"/>
<line x1="1214.1" y1="508.7" x2="1214.1" y2="511" stroke="#d0605c" stroke-width="1.2"/>
<line x1="1224.6" y1="511" x2="1224.6" y2="528.5" stroke="#5c9c5c" stroke-width="1.2"/>
<line x1="1235.1" y1="511" x2="1235.1" y2="531.4" stroke="#5c9c5c" stroke-width="1.2"/>
<line x1="1245.6" y1="511" x2="1245.6" y2="528.5" stroke="#5c9c5c" stroke-width="1.2"/>
<line x1="1256.1" y1="511" x2="1256.1" y2="525.2" stroke="#5c9c5c" stroke-width="1.2"/>
<path d="M6.2 476.4 C9.7 475.8 20.0 475.1 27.2 473.1 C34.4 471.1 41.6 467.0 49.5 464.5 C57.4 462.0 66.0 459.8 74.3 458.3 C82.5 456.9 89.9 456.4 99.0 455.8 C108.1 455.2 118.1 455.1 128.8 454.6 C139.5 454.1 153.9 452.2 163.4 452.6 C172.9 453.0 177.0 455.0 185.7 457.0 C194.4 459.0 207.1 461.8 215.4 464.5 C223.7 467.2 229.5 470.4 235.3 473.1 C241.1 475.8 243.4 477.6 250.0 480.7 C256.6 483.8 266.6 488.7 274.8 491.8 C283.1 494.9 291.2 496.9 299.5 499.2 C307.8 501.5 316.1 503.9 324.3 505.4 C332.6 506.8 341.6 507.9 349.0 507.9 C356.4 507.9 361.5 507.7 368.9 505.4 C376.3 503.1 384.5 497.4 393.6 494.3 C402.7 491.2 414.3 488.6 423.4 486.9 C432.5 485.2 439.9 484.2 448.1 483.9 C456.4 483.6 462.6 484.6 472.9 484.9 C483.2 485.2 500.1 485.9 510.0 485.6 C519.9 485.3 523.6 484.8 532.2 483.1 C540.9 481.5 552.8 477.8 561.9 475.7 C571.0 473.6 578.5 473.1 586.7 470.8 C595.0 468.5 603.6 464.0 611.4 461.6 C619.2 459.2 627.5 457.4 633.7 456.7 C639.9 456.0 642.0 456.5 648.6 457.6 C655.2 458.7 665.1 461.7 673.4 463.3 C681.6 464.9 689.9 465.4 698.1 467.5 C706.4 469.6 714.2 472.8 722.9 475.7 C731.5 478.6 741.4 482.2 750.0 484.9 C758.6 487.6 766.5 489.6 774.8 491.8 C783.0 494.0 791.2 496.1 799.5 498.0 C807.8 499.9 816.0 501.5 824.3 503.0 C832.5 504.5 841.6 506.4 849.0 507.2 C856.4 508.0 862.3 508.4 868.9 507.9 C875.5 507.4 881.7 506.0 888.7 504.2 C895.7 502.4 903.2 499.1 911.0 496.8 C918.8 494.5 927.5 492.7 935.7 490.6 C944.0 488.5 952.2 486.3 960.5 484.4 C968.8 482.5 977.0 481.3 985.3 479.4 C993.5 477.5 1003.4 474.6 1010.0 473.2 C1016.6 471.8 1018.2 471.1 1024.8 470.8 C1031.4 470.5 1041.2 471.0 1049.5 471.5 C1057.8 472.0 1066.0 473.2 1074.3 474.0 C1082.5 474.8 1090.8 475.9 1099.0 476.5 C1107.2 477.1 1115.5 478.4 1123.8 477.5 C1132.1 476.6 1140.3 473.4 1148.6 470.8 C1156.9 468.2 1167.2 464.3 1173.4 462.1 C1179.6 459.9 1180.8 458.8 1185.7 457.6 C1190.7 456.5 1197.7 455.5 1203.1 455.2 C1208.5 454.9 1212.5 455.2 1217.9 455.9 C1223.3 456.6 1229.1 458.2 1235.3 459.6 C1241.5 461.1 1251.8 463.8 1255.1 464.6" fill="none" stroke="#1c1c9c" stroke-width="1.3"/>
<path d="M6.2 471.9 C8.5 471.1 14.2 469.7 19.8 467.0 C25.4 464.3 33.8 458.4 39.6 455.8 C45.4 453.2 50.0 452.7 54.5 451.6 C59.0 450.5 62.8 448.9 66.9 449.1 C71.0 449.3 73.9 452.0 79.2 452.6 C84.5 453.2 89.1 452.9 99.0 452.6 C108.9 452.3 128.8 451.2 138.7 450.9 C148.6 450.6 152.7 450.1 158.5 450.9 C164.3 451.7 167.6 453.8 173.4 455.8 C179.2 457.9 187.0 460.1 193.2 463.2 C199.4 466.3 204.7 470.1 210.5 474.4 C216.3 478.7 221.6 485.1 227.8 489.2 C234.0 493.3 240.6 495.5 247.6 499.2 C254.6 502.9 263.2 509.1 269.8 511.1 C276.4 513.1 280.1 510.6 287.1 511.1 C294.1 511.6 303.6 513.9 311.9 514.1 C320.2 514.3 329.7 513.1 336.7 512.1 C343.7 511.1 347.8 510.9 354.0 507.9 C360.2 504.9 368.0 498.8 373.8 494.3 C379.6 489.8 384.6 483.2 388.7 480.7 C392.8 478.2 392.8 479.6 398.6 479.4 C404.4 479.2 416.0 479.3 423.4 479.4 C430.8 479.5 437.0 479.3 443.2 479.9 C449.4 480.5 453.5 482.0 460.5 483.1 C467.5 484.2 474.6 486.1 485.3 486.4 C496.0 486.7 514.9 486.7 524.8 484.9 C534.7 483.1 538.4 478.8 544.6 475.7 C550.8 472.6 557.0 468.5 561.9 466.6 C566.8 464.8 568.9 466.7 574.3 464.6 C579.7 462.5 586.7 457.0 594.1 454.2 C601.5 451.4 612.3 448.4 618.9 447.7 C625.5 447.0 628.8 448.4 633.7 450.2 C638.7 452.0 642.0 455.2 648.6 458.4 C655.2 461.6 666.0 466.2 673.4 469.5 C680.8 472.8 688.2 476.6 693.2 478.2 C698.2 479.8 698.2 477.0 703.1 478.9 C708.0 480.8 716.3 485.9 722.9 489.3 C729.5 492.7 736.1 497.3 742.7 499.2 C749.3 501.1 757.0 499.5 762.4 500.5 C767.8 501.5 771.5 505.0 774.8 505.4 C778.1 505.8 778.1 503.3 782.2 503.0 C786.3 502.7 794.1 502.7 799.5 503.7 C804.9 504.7 810.3 507.5 814.4 509.2 C818.5 510.9 820.6 512.6 824.3 513.6 C828.0 514.6 831.8 515.7 836.7 515.3 C841.7 514.9 847.8 512.8 854.0 511.1 C860.2 509.5 866.4 508.6 873.8 505.4 C881.2 502.2 891.2 495.7 898.6 491.8 C906.0 487.9 910.1 484.6 918.4 481.9 C926.6 479.2 939.9 477.0 948.1 475.7 C956.4 474.4 962.1 474.8 967.9 474.0 C973.7 473.2 977.4 471.9 982.8 470.8 C988.1 469.7 994.6 468.5 1000.0 467.5 C1005.4 466.5 1008.7 464.6 1014.9 464.6 C1021.1 464.6 1031.3 466.5 1037.1 467.5 C1042.9 468.5 1046.2 469.0 1049.5 470.8 C1052.8 472.6 1052.9 477.2 1057.0 478.2 C1061.1 479.1 1067.3 476.4 1074.3 476.5 C1081.3 476.6 1091.6 478.4 1099.0 478.9 C1106.4 479.4 1113.9 480.1 1118.9 479.4 C1123.9 478.7 1124.7 476.4 1128.8 474.5 C1132.9 472.6 1138.6 471.8 1143.6 468.3 C1148.5 464.8 1153.5 457.5 1158.5 453.4 C1163.5 449.3 1168.5 444.9 1173.4 443.5 C1178.4 442.1 1182.9 443.6 1188.2 444.8 C1193.5 446.1 1199.7 447.7 1205.5 451.0 C1211.3 454.3 1217.9 461.3 1222.9 464.6 C1227.9 467.9 1231.2 469.8 1235.3 470.8 C1239.4 471.8 1244.3 470.5 1247.6 470.8 C1250.9 471.1 1253.8 472.2 1255.1 472.5" fill="none" stroke="#111" stroke-width="1.3"/>
<!-- header -->
<text x="3" y="16.5" font-size="18" fill="#222" stroke="#222" stroke-width="0.45" textLength="72" lengthAdjust="spacingAndGlyphs">美元指数</text>
<path d="M85 7.5 L78.8 11 L85 14.5 M126.5 7.5 L132.7 11 L126.5 14.5" fill="none" stroke="#f2a860" stroke-width="1.6"/>
<text x="88.5" y="16.5" font-size="17.5" fill="#f0a050" stroke="#f0a050" stroke-width="0.3" textLength="35" lengthAdjust="spacingAndGlyphs">日线</text>
<g transform="translate(149,1)">
<rect x="0.8" y="0.8" width="16" height="15" fill="#fff" stroke="#3a2a8a" stroke-width="1.6"/>
<polyline points="2,10 6,5 9,9 12,4 15,8" fill="none" stroke="#e04060" stroke-width="1.3"/>
<polyline points="2,13 6,9 9,12 12,8 15,11" fill="none" stroke="#3060c0" stroke-width="1.3"/>
</g>
<text x="171" y="16.5" font-size="18" fill="#222" textLength="191" lengthAdjust="spacingAndGlyphs">MA(5,10,30,60,50,200)</text>
<text x="368" y="16.5" font-size="18" fill="#222" textLength="123" lengthAdjust="spacingAndGlyphs">MA5:111.4744</text>
<text x="503" y="16.5" font-size="18" fill="#30309a" textLength="133" lengthAdjust="spacingAndGlyphs">MA10:112.2531</text>
<text x="648" y="16.5" font-size="18" fill="#e050e0" textLength="134" lengthAdjust="spacingAndGlyphs">MA30:110.6348</text>
<text x="793" y="16.5" font-size="18" fill="#f0a050" textLength="133" lengthAdjust="spacingAndGlyphs">MA60:108.7223</text>
<text x="938" y="16.5" font-size="18" fill="#888" textLength="51" lengthAdjust="spacingAndGlyphs">MA50</text>
<!-- buttons -->
<rect x="1086.5" y="-2" width="111" height="21" fill="#fff" stroke="#555" stroke-width="1.5"/>
<text x="1096" y="16" font-size="17.5" fill="#606060" stroke="#606060" stroke-width="0.4" textLength="72" lengthAdjust="spacingAndGlyphs">全部主题</text>
<path d="M1172.5 4 H1184 L1178.2 14 Z" fill="#445566"/>
<g stroke="#3c78a8" fill="none" stroke-width="1.5">
<rect x="1203.5" y="-1" width="20" height="18.5"/>
<rect x="1227.5" y="-1" width="20" height="18.5"/>
<rect x="1251.5" y="-1" width="20" height="18.5"/>
<rect x="1275.5" y="-1" width="20" height="18.5"/>
</g>
<g stroke="#2a74b0" fill="none" stroke-width="2">
<path d="M1213.5 1.5 V4.5 M1213.5 11.5 V15 M1206 8 H1209.5 M1217 8 H1220.5"/>
</g>
<rect x="1212.5" y="7" width="2" height="2" fill="#2a74b0"/>
<g stroke="#2a74b0" fill="none" stroke-width="1.6">
<path d="M1232.5 2 V14 M1236.5 3 V10 M1230 13 H1245"/>
<path d="M1256.5 2 V14 M1254 13 H1268"/>
<rect x="1278.5" y="1.5" width="4.5" height="13.5"/>
<path d="M1283 8 H1289"/>
</g>
<path d="M1241.5 4 L1237 7 L1241.5 10 Z" fill="#2a74b0"/>
<path d="M1260 3.5 L1267 8 L1260 12 Z" fill="#2a74b0"/>
<path d="M1288 4 L1292.5 8 L1288 12 Z" fill="#2a74b0"/>
<!-- price labels -->
<path d="M1298 217.5 H1303 M1298 311.5 H1303" stroke="#9a9a9a" stroke-width="1"/>
<text x="1303" y="33" font-size="18" fill="#474b53" textLength="76" lengthAdjust="spacingAndGlyphs">116.4456</text>
<text x="1303" y="223.5" font-size="18" fill="#474b53" textLength="76" lengthAdjust="spacingAndGlyphs">105.9847</text>
<text x="1303" y="317.5" font-size="18" fill="#474b53" textLength="76" lengthAdjust="spacingAndGlyphs">100.7542</text>
<rect x="1298" y="107.5" width="101.5" height="26" fill="#fff" stroke="#f4aa60" stroke-width="1.1"/>
<text x="1303" y="126" font-size="18" fill="#f0a050" textLength="76" lengthAdjust="spacingAndGlyphs">112.0888</text>
<path d="M1393 96 L1398 101 H1388 Z M1393 101 L1398 106 H1388 Z" fill="#f09030"/>
<!-- max/min labels -->
<text x="624" y="153" font-size="18" font-weight="bold" fill="#c85050" textLength="76" lengthAdjust="spacingAndGlyphs">109.3032</text>
<text x="1190" y="54.5" font-size="18" font-weight="bold" fill="#c85050" textLength="75" lengthAdjust="spacingAndGlyphs">114.7940</text>
<text x="15" y="327.5" font-size="18" font-weight="bold" fill="#78a878" textLength="74" lengthAdjust="spacingAndGlyphs">101.0307</text>
<!-- MACD header -->
<text x="3" y="431" font-size="18" fill="#333" textLength="232" lengthAdjust="spacingAndGlyphs">MACD(26,12,9) DIFF:0.7825</text>
<text x="249" y="431" font-size="18" fill="#30309a" textLength="97" lengthAdjust="spacingAndGlyphs">DEA:0.9318</text>
<text x="359" y="431" font-size="18" fill="#e050e0" textLength="123" lengthAdjust="spacingAndGlyphs">MACD:-0.2985</text>
<text x="1303" y="447.5" font-size="18" fill="#3a3e46" textLength="57" lengthAdjust="spacingAndGlyphs">1.3538</text>
<text x="1303" y="484" font-size="18" fill="#3a3e46" textLength="57" lengthAdjust="spacingAndGlyphs">0.6324</text>
<path d="M1310 518.5 H1363" stroke="#333" stroke-width="2" stroke-dasharray="4,5"/>
<rect x="1298" y="491" width="103" height="25" fill="#fff" stroke="#e8e8e8" stroke-width="1"/>
<text x="1303" y="511" font-size="18" fill="#f0a050" textLength="57" lengthAdjust="spacingAndGlyphs">0.3618</text>
<!-- date axis -->
<g stroke="#cfcfcf"><path d="M59.5 550 V560 M290.5 550 V560 M521.5 550 V560 M741.5 550 V560 M983.5 550 V560 M1214.5 550 V560"/></g>
<text x="62" y="569" font-size="18" font-weight="bold" fill="#333" textLength="67" lengthAdjust="spacingAndGlyphs">2022/05</text>
<text x="293" y="569" font-size="18" font-weight="bold" fill="#333" textLength="67" lengthAdjust="spacingAndGlyphs">2022/06</text>
<text x="524" y="569" font-size="18" font-weight="bold" fill="#333" textLength="67" lengthAdjust="spacingAndGlyphs">2022/07</text>
<text x="744" y="569" font-size="18" font-weight="bold" fill="#333" textLength="67" lengthAdjust="spacingAndGlyphs">2022/08</text>
<text x="986" y="569" font-size="18" font-weight="bold" fill="#333" textLength="67" lengthAdjust="spacingAndGlyphs">2022/09</text>
<text x="1217" y="569" font-size="18" font-weight="bold" fill="#333" textLength="67" lengthAdjust="spacingAndGlyphs">2022/10</text>
<rect x="583" y="551" width="167" height="26" fill="#fff" fill-opacity="0.95"/>
<text x="585" y="569" font-size="18" fill="#f0a050" textLength="160" lengthAdjust="spacingAndGlyphs">2022/07/11 星期一</text>
<!-- watermark -->
<text x="1274" y="581.5" font-size="30" fill="#c4c8d0" textLength="97" lengthAdjust="spacing">FX678</text>
<text x="1273" y="580.5" font-size="30" fill="#e6e9ee" textLength="97" lengthAdjust="spacing">FX678</text>
<!-- tabs -->
<line x1="0" y1="579.5" x2="1401" y2="579.5" stroke="#d8d8d8"/>
<rect x="0" y="602.5" width="1401" height="3.5" fill="#d9dde1"/>
<g stroke="#d8d8d8"><path d="M14.5 580 V602 M101.5 580 V602 M143.5 580 V602 M203.5 580 V602 M263.5 580 V602 M314.5 580 V602 M374.5 580 V602 M424.5 580 V602 M476.5 580 V602 M536.5 580 V602 M587.5 580 V602 M629.5 580 V602 M681.5 580 V602 M740.5 580 V602"/></g>
<text x="26" y="598" font-size="17" fill="#f0983c" style="font-family:'Liberation Serif',serif" textLength="62" lengthAdjust="spacingAndGlyphs">VIP指标</text>
<g font-family="Liberation Serif" font-size="17" fill="#333" font-weight="bold" style="font-family:'Liberation Serif',serif">
<text x="113" y="597.5" textLength="18" lengthAdjust="spacingAndGlyphs">MA</text>
<text x="155" y="597.5" textLength="36" lengthAdjust="spacingAndGlyphs">MACD</text>
<text x="216" y="597.5" textLength="37" lengthAdjust="spacingAndGlyphs">BOLL</text>
<text x="276" y="597.5" textLength="27" lengthAdjust="spacingAndGlyphs">VOL</text>
<text x="326" y="597.5" textLength="36" lengthAdjust="spacingAndGlyphs">BIAS</text>
<text x="386" y="597.5" textLength="27" lengthAdjust="spacingAndGlyphs">CCI</text>
<text x="437" y="597.5" textLength="27" lengthAdjust="spacingAndGlyphs">KDJ</text>
<text x="489" y="597.5" textLength="28" lengthAdjust="spacingAndGlyphs">LW&amp;</text>
<text x="548" y="597.5" textLength="27" lengthAdjust="spacingAndGlyphs">RSI</text>
<text x="599" y="597.5" textLength="18" lengthAdjust="spacingAndGlyphs">CR</text>
<text x="641" y="597.5" textLength="26" lengthAdjust="spacingAndGlyphs">PSY</text>
</g>
<text x="692" y="598" font-size="17" fill="#333" stroke="#333" stroke-width="0.3" textLength="36" lengthAdjust="spacingAndGlyphs">设置</text>
<text x="-15.5" y="598" font-size="17" fill="#333" stroke="#333" stroke-width="0.3">置</text>
</svg>
</body></html>
